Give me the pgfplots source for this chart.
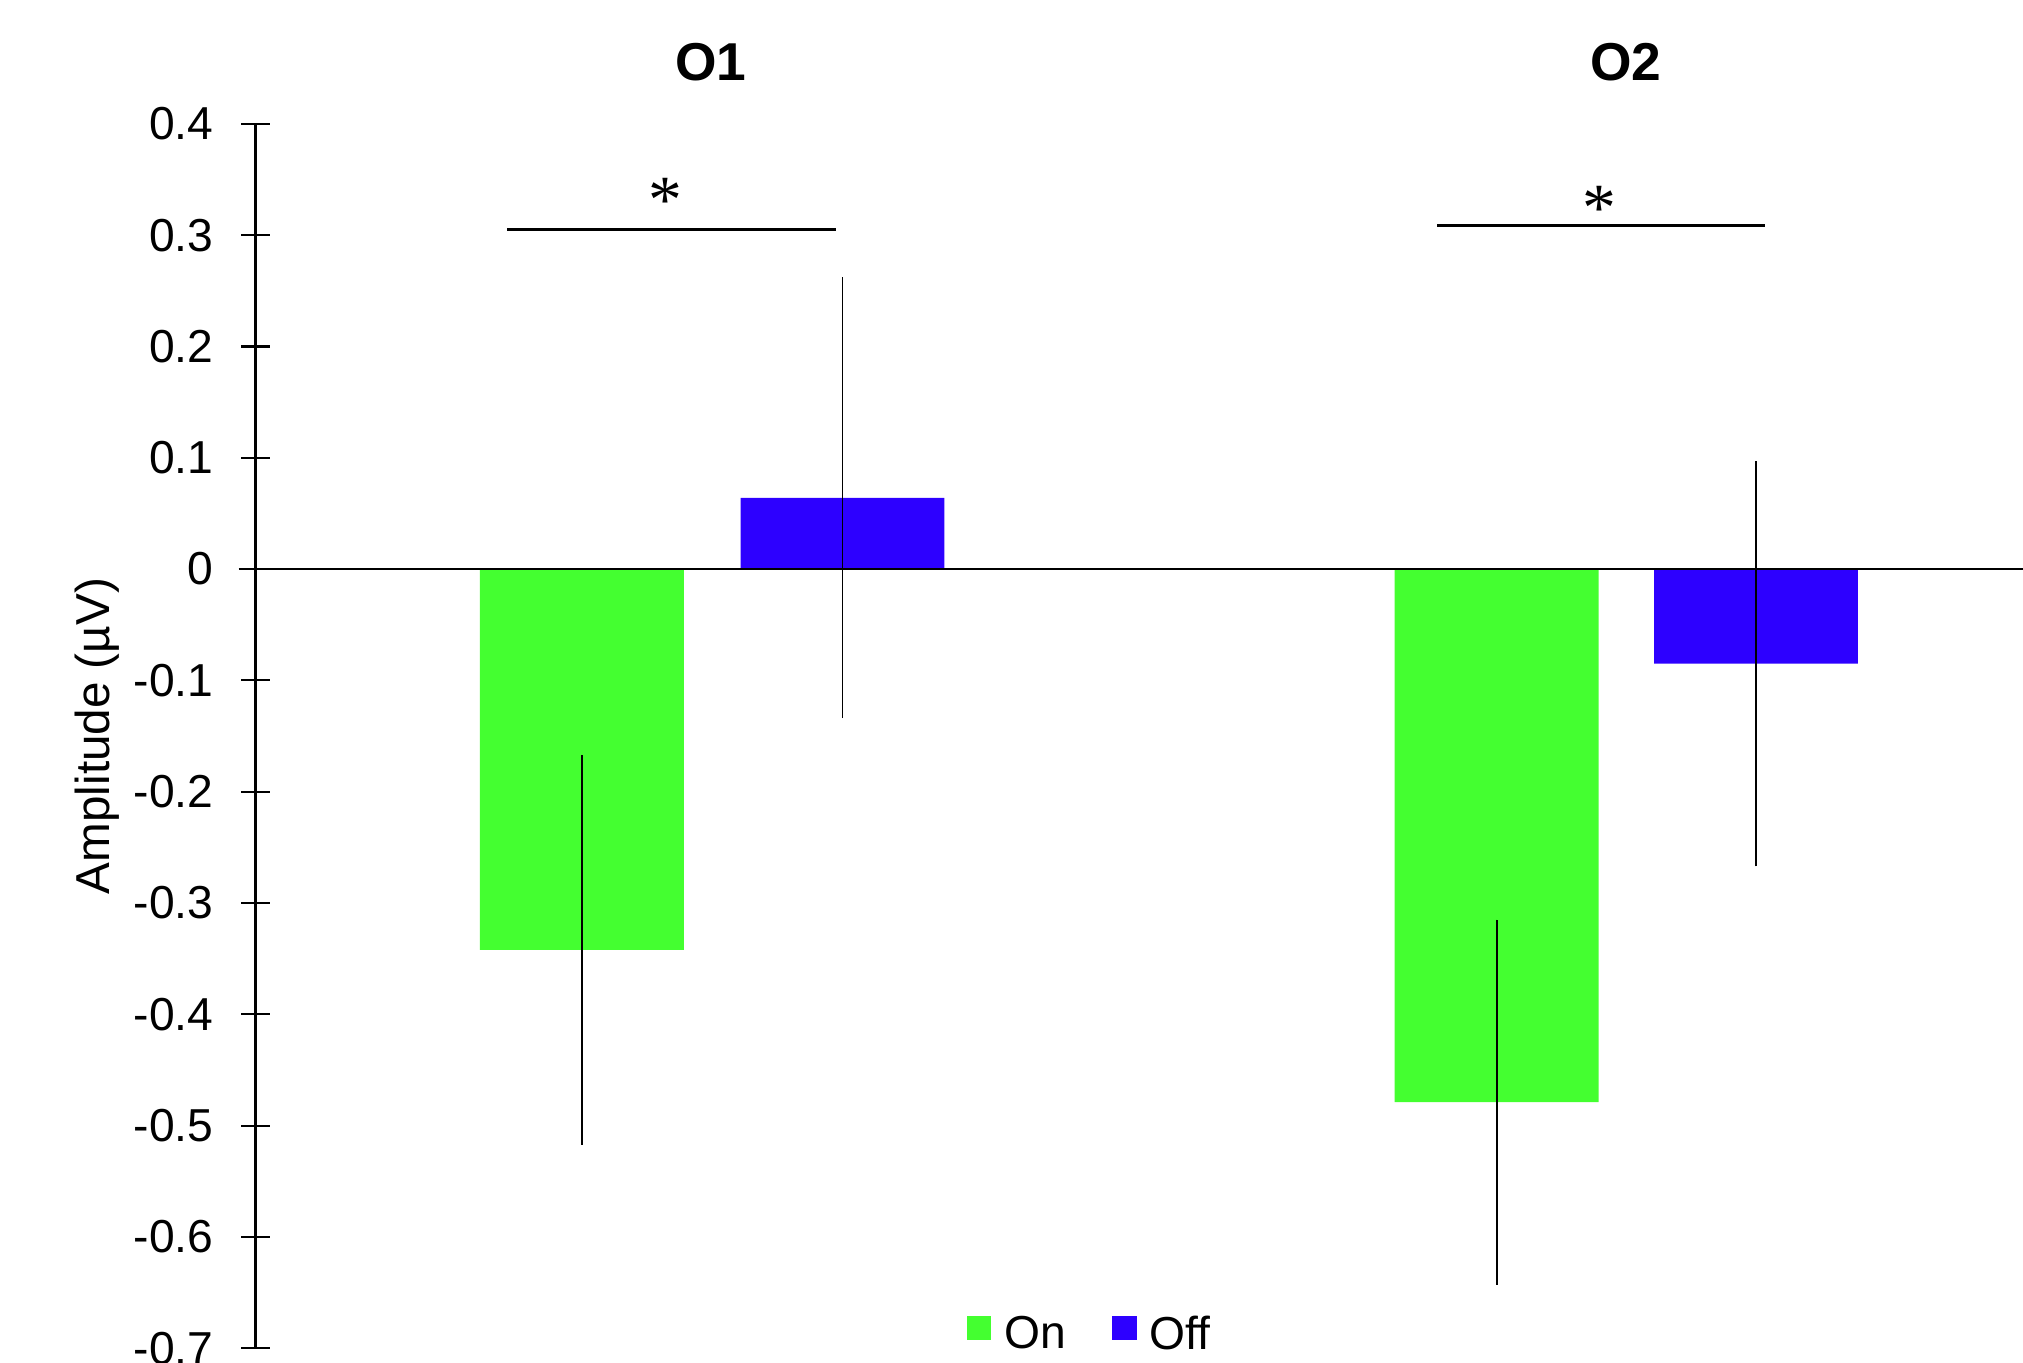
\documentclass[border=0pt]{standalone}
\usepackage{fontspec}
\setmainfont{Liberation Sans}
\newfontfamily\starfont{Liberation Serif}
\usepackage{pgfplots}
\pgfplotsset{compat=1.18}
\definecolor{ongreen}{RGB}{68,255,48}
\definecolor{offblue}{RGB}{45,0,255}
\begin{document}
\begin{tikzpicture}
\begin{axis}[
  at={(0,0)}, anchor=south west,
  scale only axis, width=17.4745cm, height=12.1046cm,
  xmin=198, xmax=1568, ymin=-0.7, ymax=0.4,
  axis x line=none, axis y line=left,
  axis line style={-, line width=0.6pt},
  xtick=\empty,
  ytick={-0.7,-0.6,-0.5,-0.4,-0.3,-0.2,-0.1,0,0.1,0.2,0.3,0.4},
  tick align=center, major tick length=0.28cm,
  tick style={line width=0.6pt, black},
  yticklabel style={/pgf/number format/assume math mode=true, font=\fontsize{13}{15}\selectfont, xshift=-0.153cm},
  ylabel={Amplitude (µV)},
  every axis y label/.style={at={(rel axis cs:-0.0898,0.5)}, rotate=90, anchor=center, font=\fontsize{13.4}{16}\selectfont},
  clip=false,
  legend style={at={(0.4734,0.0106)}, anchor=center, draw=none, fill=none,
    legend columns=2, font=\fontsize{13}{15}\selectfont,
    /tikz/every even column/.append style={column sep=0.39cm}},
  legend image code/.code={\fill[#1] (0cm,-0.05cm) rectangle (0.245cm,0.195cm); \path (0.30cm,0);},
]
\addplot[ybar, bar shift=0pt, bar width=158, fill=ongreen, draw=none,
  error bars/.cd, y dir=both, y explicit, error mark=none,
  error bar style={black, line width=0.55pt}]
  coordinates {(451,-0.342) +- (0,0.175) (1160,-0.479) +- (0,0.164)};
\addplot[ybar, bar shift=0pt, bar width=158, fill=offblue, draw=none,
  error bars/.cd, y dir=both, y explicit, error mark=none,
  error bar style={black, line width=0.55pt}]
  coordinates {(653,0.064) +- (0,0.198) (1361,-0.085) +- (0,0.182)};
\legend{On,Off}
\draw[line width=0.7pt] (axis cs:185,0) -- (axis cs:1568,0);
\draw[line width=0.8pt] (axis cs:393,0.305) -- (axis cs:648,0.305);
\draw[line width=0.8pt] (axis cs:1114,0.3084) -- (axis cs:1368,0.3084);
\node[anchor=base, font=\starfont\fontsize{19}{19}\selectfont] at (axis cs:516,0.311) {*};
\node[anchor=base, font=\starfont\fontsize{19}{19}\selectfont] at (axis cs:1240,0.3045) {*};
\node[font=\bfseries\fontsize{15}{18}\selectfont] at (axis cs:551,0.4557) {O1};
\node[font=\bfseries\fontsize{15}{18}\selectfont] at (axis cs:1260,0.4557) {O2};
\end{axis}
\pgfresetboundingbox
\path (-2.5255cm,-0.1403cm) rectangle (17.4745cm,13.3291cm);
\end{tikzpicture}
\end{document}
